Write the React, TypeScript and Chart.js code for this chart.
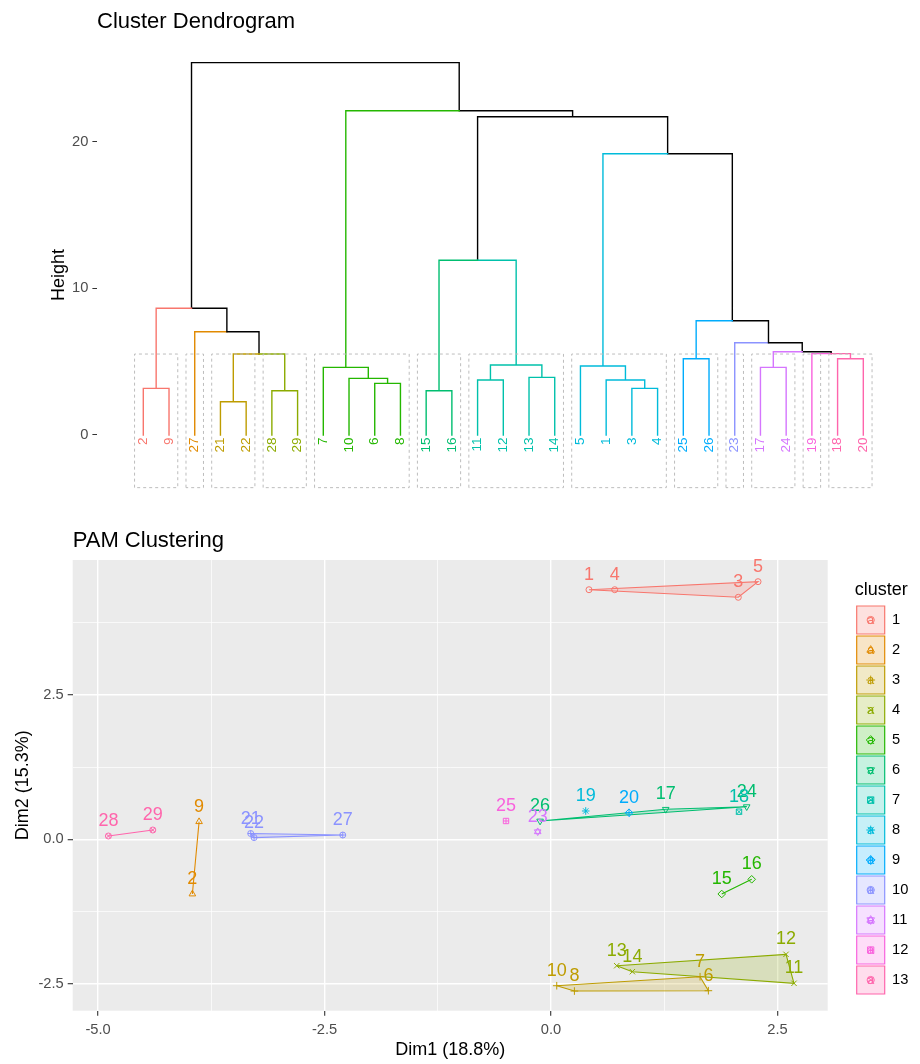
import React, { useEffect, useRef } from "react";
import { Chart, registerables } from "chart.js";
import { drawPoint } from "chart.js/helpers";

Chart.register(...registerables);

const FONT = "'Liberation Sans', Arial, Helvetica, sans-serif";
Chart.defaults.font.family = FONT;
Chart.defaults.color = "#4D4D4D";

// ---------- shared palette ----------
const clusterColors = [
  "#F8766D", "#E18A00", "#BE9C00", "#8CAB00", "#24B700", "#00BE70", "#00C1AB",
  "#00BBDA", "#00ACFC", "#8B93FF", "#D575FE", "#F962DD", "#FF65AC",
];
const clusterNames = ["1", "2", "3", "4", "5", "6", "7", "8", "9", "10", "11", "12", "13"];

// ---------- dendrogram data ----------
const leafOrder = [2, 9, 27, 21, 22, 28, 29, 7, 10, 6, 8, 15, 16, 11, 12, 13, 14, 5, 1, 3, 4, 25, 26, 23, 17, 24, 19, 18, 20];
const leafGroup = [0, 0, 1, 2, 2, 3, 3, 4, 4, 4, 4, 5, 5, 6, 6, 6, 6, 7, 7, 7, 7, 8, 8, 9, 10, 10, 11, 12, 12];
// merge steps (negative = observation, positive = earlier step, 1-based)
const mergeA = [-21, -28, -15, -2, -3, -6, -11, -1, -10, -13, -7, -17, -5, 7, -18, -25, 1, -19, 12, -23, -27, 16, 4, 3, 13, 24, 11, 23];
const mergeB = [-22, -29, -16, -9, -4, -8, -12, 5, 6, -14, 9, -24, 8, 10, -20, -26, 2, 15, 18, 19, 17, 20, 21, 14, 22, 25, 26, 27];
const mergeHeight = [2.27, 3.02, 3.02, 3.18, 3.18, 3.52, 3.75, 3.75, 3.86, 3.93, 4.61, 4.61, 4.7, 4.77, 5.2, 5.2, 5.52, 5.55, 5.68, 6.29, 7.04, 7.79, 8.64, 11.91, 19.18, 21.7, 22.11, 25.39];
const heightTicks = [0, 10, 20];
const rectTop = 5.52;
const rectBottom = -3.59;

// ---------- PAM data ----------
const obsIds = [1, 4, 3, 5, 9, 2, 10, 8, 6, 7, 13, 14, 12, 11, 15, 16, 26, 17, 24, 18, 19, 20, 21, 22, 27, 23, 25, 28, 29];
const dim1 = [0.419, 0.703, 2.067, 2.285, -3.885, -3.959, 0.063, 0.258, 1.737, 1.645, 0.725, 0.898, 2.594, 2.682, 1.884, 2.215, -0.121, 1.266, 2.16, 2.075, 0.383, 0.861, -3.315, -3.278, -2.299, -0.147, -0.497, -4.886, -4.396];
const dim2 = [4.318, 4.318, 4.187, 4.457, 0.305, -0.946, -2.533, -2.625, -2.619, -2.377, -2.187, -2.29, -1.99, -2.491, -0.946, -0.692, 0.316, 0.519, 0.564, 0.478, 0.49, 0.46, 0.1, 0.03, 0.074, 0.131, 0.317, 0.057, 0.161];
const pamCluster = [1, 1, 1, 1, 2, 2, 3, 3, 3, 3, 4, 4, 4, 4, 5, 5, 6, 6, 6, 7, 8, 9, 10, 10, 10, 11, 12, 13, 13];
const dim1Ticks = [-5, -2.5, 0, 2.5];
const dim2Ticks = [-2.5, 0, 2.5];

// R pch 1..13 approximated with Chart.js point styles
const clusterShapes: { style: string; rot: number; r: number }[][] = [
  [{ style: "circle", rot: 0, r: 3 }],
  [{ style: "triangle", rot: 0, r: 3.8 }],
  [{ style: "cross", rot: 0, r: 3.8 }],
  [{ style: "crossRot", rot: 0, r: 3.8 }],
  [{ style: "rectRot", rot: 0, r: 3.8 }],
  [{ style: "triangle", rot: 180, r: 3.8 }],
  [{ style: "rect", rot: 0, r: 3.8 }, { style: "crossRot", rot: 0, r: 3.8 }],
  [{ style: "star", rot: 0, r: 3.8 }],
  [{ style: "rectRot", rot: 0, r: 3.8 }, { style: "cross", rot: 0, r: 3.8 }],
  [{ style: "circle", rot: 0, r: 3 }, { style: "cross", rot: 0, r: 3 }],
  [{ style: "triangle", rot: 0, r: 3.8 }, { style: "triangle", rot: 180, r: 3.8 }],
  [{ style: "rect", rot: 0, r: 3.8 }, { style: "cross", rot: 0, r: 2.7 }],
  [{ style: "circle", rot: 0, r: 3 }, { style: "crossRot", rot: 0, r: 3 }],
];

function rgba(hex: string, a: number) {
  const n = parseInt(hex.slice(1), 16);
  return `rgba(${(n >> 16) & 255},${(n >> 8) & 255},${n & 255},${a})`;
}

function convexHull(points: { x: number; y: number }[]) {
  const p = points.slice().sort((a, b) => a.x - b.x || a.y - b.y);
  if (p.length < 3) return p;
  const cross = (o: any, a: any, b: any) => (a.x - o.x) * (b.y - o.y) - (a.y - o.y) * (b.x - o.x);
  const lower: any[] = [];
  for (const q of p) {
    while (lower.length >= 2 && cross(lower[lower.length - 2], lower[lower.length - 1], q) <= 0) lower.pop();
    lower.push(q);
  }
  const upper: any[] = [];
  for (let i = p.length - 1; i >= 0; i--) {
    const q = p[i];
    while (upper.length >= 2 && cross(upper[upper.length - 2], upper[upper.length - 1], q) <= 0) upper.pop();
    upper.push(q);
  }
  return lower.slice(0, -1).concat(upper.slice(0, -1));
}

function dendrogramDatasets() {
  const posOf: Record<number, number> = {};
  leafOrder.forEach((o, i) => (posOf[o] = i + 1));
  type N = { x: number; h: number; g: number };
  const nodes: N[] = [];
  const get = (id: number): N =>
    id < 0 ? { x: posOf[-id], h: 0, g: leafGroup[posOf[-id] - 1] } : nodes[id - 1];
  const byColor = new Map<string, any[]>();
  mergeA.forEach((a, k) => {
    const A = get(a);
    const B = get(mergeB[k]);
    const n = { x: (A.x + B.x) / 2, h: mergeHeight[k], g: A.g === B.g ? A.g : -1 };
    nodes.push(n);
    [A, B].forEach((c) => {
      const col = c.g >= 0 ? clusterColors[c.g] : "#000000";
      if (!byColor.has(col)) byColor.set(col, []);
      byColor.get(col)!.push({ x: n.x, y: n.h }, { x: c.x, y: n.h }, { x: c.x, y: c.h }, { x: c.x, y: null });
    });
  });
  const sets: any[] = [];
  byColor.forEach((data, col) => {
    sets.push({
      data, showLine: true, borderColor: col, borderWidth: 1.4, pointRadius: 0,
      fill: false, tension: 0, spanGaps: false, order: 2, borderCapStyle: "square", borderJoinStyle: "miter",
    });
  });
  // dashed cluster rectangles
  const rectData: any[] = [];
  for (let g = 0; g < clusterColors.length; g++) {
    const first = leafGroup.indexOf(g) + 1;
    const last = leafGroup.lastIndexOf(g) + 1;
    const x1 = first - 0.34;
    const x2 = last + 0.34;
    rectData.push(
      { x: x1, y: rectBottom }, { x: x1, y: rectTop }, { x: x2, y: rectTop },
      { x: x2, y: rectBottom }, { x: x1, y: rectBottom }, { x: x1, y: null }
    );
  }
  sets.push({
    data: rectData, showLine: true, borderColor: "#BDBDBD", borderWidth: 1, borderDash: [3, 3],
    pointRadius: 0, fill: false, tension: 0, spanGaps: false, order: 0,
  });
  return sets;
}

const pointLabelPlugin = {
  id: "pointLabels",
  afterDatasetsDraw(chart: any) {
    const ctx = chart.ctx;
    ctx.save();
    ctx.font = `18px ${FONT}`;
    ctx.textAlign = "center";
    ctx.textBaseline = "alphabetic";
    chart.data.datasets.forEach((ds: any, i: number) => {
      if (!ds.pointLabels) return;
      const meta = chart.getDatasetMeta(i);
      ctx.fillStyle = ds.borderColor;
      meta.data.forEach((el: any, j: number) => ctx.fillText(ds.pointLabels[j], el.x, el.y - 10));
    });
    ctx.restore();
  },
};

const panelBgPlugin = {
  id: "panelBg",
  beforeDraw(chart: any) {
    const { ctx, chartArea: a } = chart;
    ctx.save();
    ctx.fillStyle = "#EBEBEB";
    ctx.fillRect(a.left, a.top, a.right - a.left, a.bottom - a.top);
    ctx.restore();
  },
};

const legendGlyphPlugin = {
  id: "legendGlyphs",
  afterDraw(chart: any) {
    const lg = chart.legend;
    if (!lg || !lg.legendHitBoxes) return;
    const ctx = chart.ctx;
    ctx.save();
    lg.legendHitBoxes.forEach((hb: any, i: number) => {
      const cx = hb.left + 14;
      const cy = hb.top + 14;
      const col = clusterColors[i];
      ctx.fillStyle = col;
      ctx.font = `13px ${FONT}`;
      ctx.textAlign = "center";
      ctx.textBaseline = "middle";
      ctx.fillText("a", cx, cy);
      ctx.strokeStyle = col;
      ctx.lineWidth = 1;
      clusterShapes[i].forEach((s) => {
        ctx.fillStyle = "rgba(0,0,0,0)";
        drawPoint(ctx, { pointStyle: s.style, rotation: s.rot, radius: s.r + 0.6, borderWidth: 1 } as any, cx, cy);
      });
    });
    ctx.restore();
  },
};

function dendrogramConfig(): any {
  return {
    type: "scatter",
    data: { datasets: dendrogramDatasets() },
    options: {
      responsive: false,
      animation: false,
      events: [],
      layout: { padding: { top: 0, left: 0, right: 20, bottom: 20 } },
      plugins: {
        legend: { display: false },
        tooltip: { enabled: false },
        title: {
          display: true, text: "Cluster Dendrogram", align: "start", fullSize: false,
          color: "#000000", font: { size: 22, weight: "normal" }, padding: { top: 9.2, bottom: 14.4 },
        },
      },
      scales: {
        x: {
          type: "linear", min: -0.8006, max: 30.427,
          position: { y: 0 },
          afterBuildTicks: (s: any) => { s.ticks = leafOrder.map((_, i) => ({ value: i + 1 })); },
          grid: { display: false, drawTicks: false },
          border: { display: false },
          ticks: {
            autoSkip: false, minRotation: 90, maxRotation: 90, padding: 2.5,
            font: { size: 13.5 },
            color: (ctx: any) => clusterColors[leafGroup[ctx.index]],
            callback: (_v: any, i: number) => String(leafOrder[i]),
          },
        },
        y: {
          type: "linear", min: -4.432, max: 26.25, position: "left",
          afterBuildTicks: (s: any) => { s.ticks = heightTicks.map((v) => ({ value: v })); },
          afterFit: (s: any) => { s.width = 97; },
          grid: { drawOnChartArea: false, drawTicks: true, tickLength: 4.6, color: "#333333", tickWidth: 1 },
          border: { display: false },
          ticks: { color: "#4D4D4D", font: { size: 14.7 }, padding: 4 },
          title: {
            display: true, text: "Height", color: "#000000", font: { size: 18 },
            padding: { top: 48.5, bottom: 0 },
          },
        },
      },
    },
  };
}

function pamConfig(): any {
  const datasets: any[] = [];
  clusterNames.forEach((name, c) => {
    const idx = pamCluster.map((k, i) => (k === c + 1 ? i : -1)).filter((i) => i >= 0);
    const pts = idx.map((i) => ({ x: dim1[i], y: dim2[i] }));
    const col = clusterColors[c];
    if (pts.length > 1) {
      const h = convexHull(pts);
      datasets.push({
        label: "hull " + name, data: [...h, h[0]], showLine: true, fill: "shape",
        borderColor: col, backgroundColor: rgba(col, 0.2), borderWidth: 1.1,
        pointRadius: 0, tension: 0, order: 3,
      });
    }
    clusterShapes[c].forEach((s, k) => {
      datasets.push({
        label: "cluster " + name, data: pts, showLine: false,
        pointStyle: s.style, pointRotation: s.rot, pointRadius: s.r, pointBorderWidth: 1,
        borderColor: col, pointBorderColor: col,
        backgroundColor: "rgba(0,0,0,0)", pointBackgroundColor: "rgba(0,0,0,0)",
        order: 2,
        pointLabels: k === 0 ? idx.map((i) => String(obsIds[i])) : undefined,
      });
    });
  });

  const xGrid: number[] = [];
  dim1Ticks.forEach((t) => xGrid.push(t, t + 1.25));
  xGrid.unshift(dim1Ticks[0] - 1.25);
  const yGrid: number[] = [];
  dim2Ticks.forEach((t) => yGrid.push(t, t + 1.25));
  yGrid.unshift(dim2Ticks[0] - 1.25);
  const xMin = -5.28, xMax = 3.054, yMin = -2.965, yMax = 4.832;
  const isMajorX = (v: number) => dim1Ticks.includes(v);
  const isMajorY = (v: number) => dim2Ticks.includes(v);

  return {
    type: "scatter",
    data: { datasets },
    options: {
      responsive: false,
      animation: false,
      events: [],
      layout: { padding: { top: 0, left: 0, right: 5.3, bottom: 0 } },
      plugins: {
        tooltip: { enabled: false },
        title: {
          display: true, text: "PAM Clustering", align: "start", fullSize: false,
          color: "#000000", font: { size: 22, weight: "normal" }, padding: { top: 7.5, bottom: 6.1 },
        },
        legend: {
          display: true, position: "right", align: "start", maxWidth: 60, fullSize: true,
          onClick: () => {},
          title: {
            display: true, text: "cluster", color: "#000000", font: { size: 18 },
            padding: { top: 61.5, bottom: 0.9 }, position: "start",
          },
          labels: {
            boxWidth: 28, boxHeight: 28, padding: 2, color: "#000000", font: { size: 14.7 },
            generateLabels: () =>
              clusterNames.map((n, i) => ({
                text: n, fillStyle: rgba(clusterColors[i], 0.22), strokeStyle: clusterColors[i],
                lineWidth: 1.2, hidden: false, fontColor: "#000000", index: i,
              })),
          },
        },
      },
      scales: {
        x: {
          type: "linear", min: xMin, max: xMax, position: "bottom",
          afterBuildTicks: (s: any) => {
            s.ticks = xGrid.filter((v) => v >= xMin && v <= xMax).map((v) => ({ value: v }));
          },
          afterFit: (s: any) => { s.height = 53.3; },
          border: { display: false },
          grid: {
            color: "#FFFFFF",
            lineWidth: (ctx: any) => (ctx.tick && isMajorX(ctx.tick.value) ? 1.4 : 0.7),
            tickColor: (ctx: any) => (ctx.tick && isMajorX(ctx.tick.value) ? "#333333" : "rgba(0,0,0,0)"),
            tickLength: 5, tickWidth: 1.1,
          },
          ticks: {
            autoSkip: false, maxRotation: 0, padding: 5, color: "#4D4D4D", font: { size: 14.7 },
            callback: (v: any) => (isMajorX(Number(v)) ? Number(v).toFixed(1) : ""),
          },
          title: {
            display: true, text: "Dim1 (18.8%)", color: "#000000", font: { size: 18 },
            padding: { top: 0, bottom: 3.2 },
          },
        },
        y: {
          type: "linear", min: yMin, max: yMax, position: "left",
          afterBuildTicks: (s: any) => {
            s.ticks = yGrid.filter((v) => v >= yMin && v <= yMax).map((v) => ({ value: v }));
          },
          afterFit: (s: any) => { s.width = 72.7; },
          border: { display: false },
          grid: {
            color: "#FFFFFF",
            lineWidth: (ctx: any) => (ctx.tick && isMajorY(ctx.tick.value) ? 1.4 : 0.7),
            tickColor: (ctx: any) => (ctx.tick && isMajorY(ctx.tick.value) ? "#333333" : "rgba(0,0,0,0)"),
            tickLength: 5, tickWidth: 1.1,
          },
          ticks: {
            autoSkip: false, padding: 4, color: "#4D4D4D", font: { size: 14.7 },
            callback: (v: any) => (isMajorY(Number(v)) ? Number(v).toFixed(1) : ""),
          },
          title: {
            display: true, text: "Dim2 (15.3%)", color: "#000000", font: { size: 18 },
            padding: { top: 12.5, bottom: 0 },
          },
        },
        y2: {
          type: "linear", position: "right", display: true,
          afterFit: (s: any) => { s.width = 27; },
          grid: { display: false, drawTicks: false },
          border: { display: false },
          ticks: { display: false },
        },
      },
    },
    plugins: [panelBgPlugin, pointLabelPlugin, legendGlyphPlugin],
  };
}

export default function App() {
  const topRef = useRef<HTMLCanvasElement>(null);
  const botRef = useRef<HTMLCanvasElement>(null);
  useEffect(() => {
    const c1 = new Chart(topRef.current!, dendrogramConfig());
    const c2 = new Chart(botRef.current!, pamConfig());
    return () => {
      c1.destroy();
      c2.destroy();
    };
  }, []);
  return (
    <div style={{ position: "absolute", left: 0, top: 0, width: 920, height: 1064, background: "#FFFFFF" }}>
      <canvas ref={topRef} width={920} height={520} style={{ position: "absolute", left: 0, top: 0 }} />
      <canvas ref={botRef} width={920} height={544} style={{ position: "absolute", left: 0, top: 520 }} />
    </div>
  );
}
